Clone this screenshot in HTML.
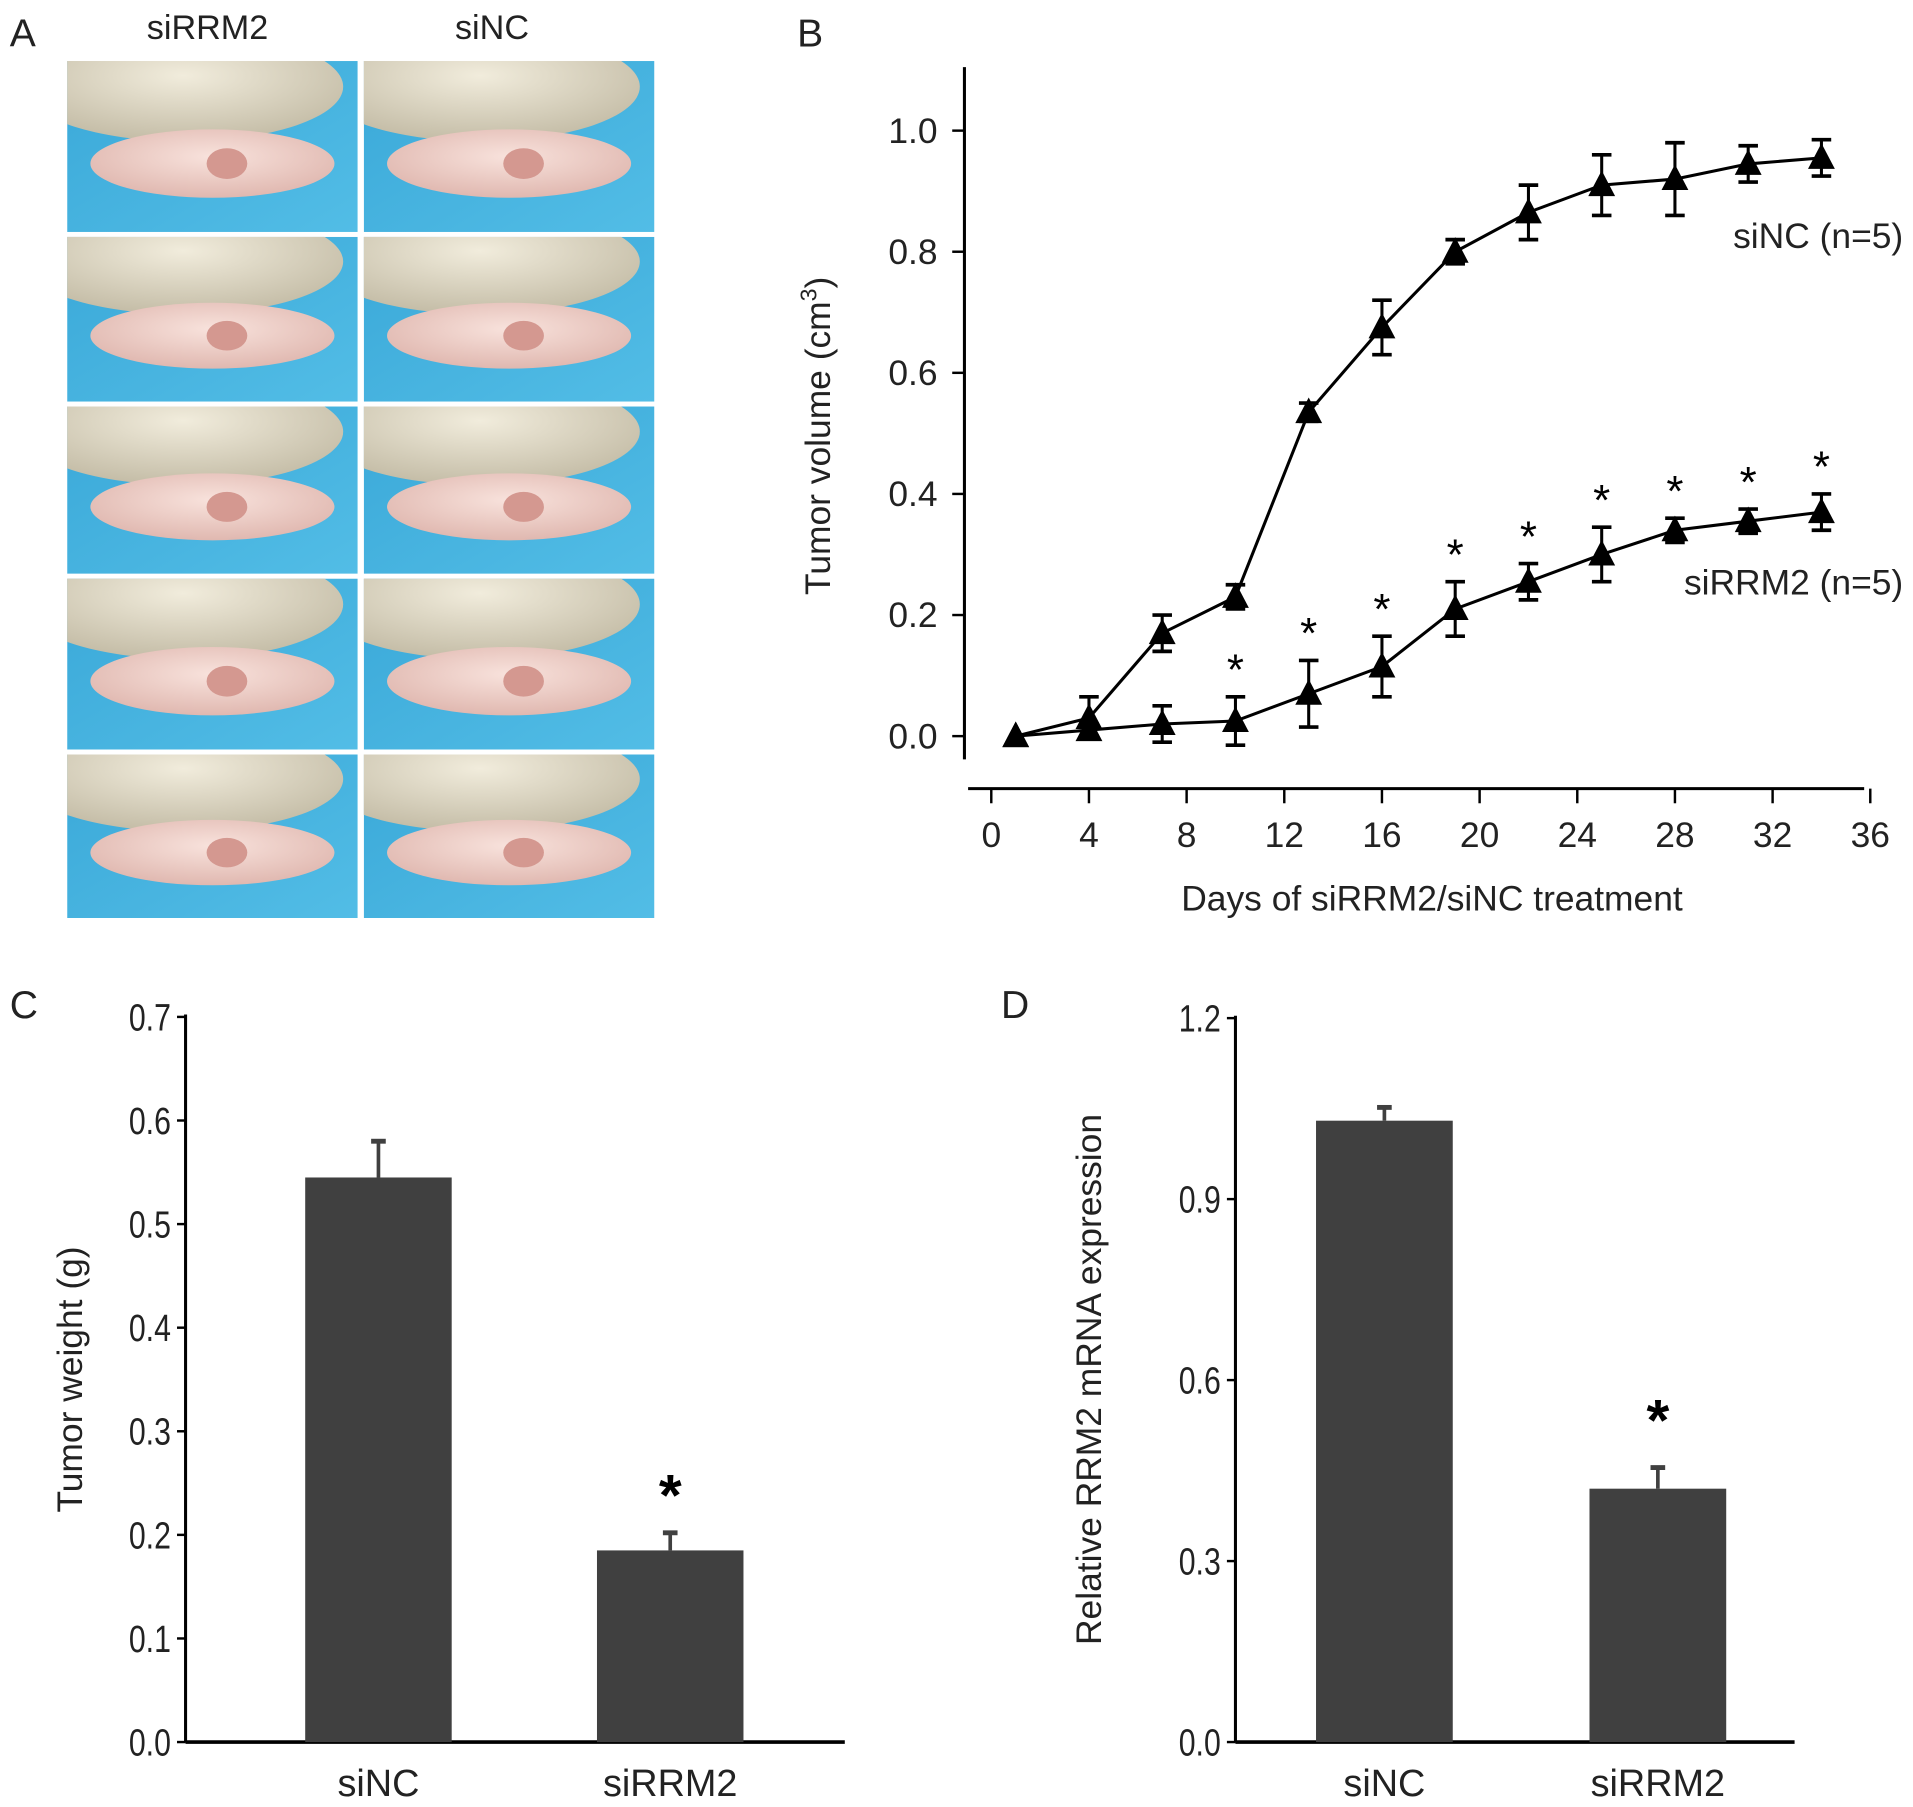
<!DOCTYPE html>
<html><head><meta charset="utf-8"><style>
html,body{margin:0;padding:0;background:#fff;}
svg{display:block;font-family:"Liberation Sans",Arial,sans-serif;}
</style></head><body>
<svg id="fig" width="1913" height="1807" viewBox="0 0 1567 1480.2" preserveAspectRatio="none" xmlns="http://www.w3.org/2000/svg">
<defs>
<linearGradient id="bg" x1="0" y1="0" x2="1" y2="1"><stop offset="0" stop-color="#3aa8d8"/><stop offset="1" stop-color="#52bde6"/></linearGradient>
<radialGradient id="hand" cx="0.5" cy="0.4" r="0.7"><stop offset="0" stop-color="#f1ecdc"/><stop offset="1" stop-color="#bdb59e"/></radialGradient>
<radialGradient id="body" cx="0.5" cy="0.4" r="0.6"><stop offset="0" stop-color="#f8e2dc"/><stop offset="1" stop-color="#e0b8b0"/></radialGradient>
</defs>
<g id="panelA"></g>
<g id="panelB"></g>
<g id="panelC"></g>
<g id="panelD"></g>
</svg>
<script>
// Panel B data
const days = [1,4,7,10,13,16,19,22,25,28,31,34];
const sincVals = [0,0.03,0.17,0.23,0.535,0.675,0.80,0.865,0.91,0.92,0.945,0.955];
const sincErr = [0,0.035,0.03,0.02,0.015,0.045,0.02,0.045,0.05,0.06,0.03,0.03];
const sirrmVals = [0,0.01,0.02,0.025,0.07,0.115,0.21,0.255,0.30,0.34,0.355,0.37];
const sirrmErr = [0,0.01,0.03,0.04,0.055,0.05,0.045,0.03,0.045,0.02,0.02,0.03];
const starFlags = [0,0,0,1,1,1,1,1,1,1,1,1];
const bYTicks = ["0.0","0.2","0.4","0.6","0.8","1.0"];
const bXTicks = [0,4,8,12,16,20,24,28,32,36];
// Panel C data
const cCats = ["siNC","siRRM2"];
const cVals = [0.545,0.185];
const cErr = [0.035,0.017];
const cYTicks = ["0.0","0.1","0.2","0.3","0.4","0.5","0.6","0.7"];
// Panel D data
const dCats = ["siNC","siRRM2"];
const dVals = [1.03,0.42];
const dErr = [0.022,0.035];
const dYTicks = ["0.0","0.3","0.6","0.9","1.2"];

const NS="http://www.w3.org/2000/svg";
function mk(parent,tag,attrs,name,text){
  const e=document.createElementNS(NS,tag);
  for(const k in attrs) e.setAttribute(k,attrs[k]);
  
  
  if(text!==undefined) e.textContent=text;
  parent.appendChild(e); return e;
}
const svg=document.getElementById('fig');
mk(svg,'text',{x:8,y:38,'font-size':32,fill:'#222'},'panel-label-a','A');
mk(svg,'text',{x:653,y:38,'font-size':32,fill:'#222'},'panel-label-b','B');
mk(svg,'text',{x:8,y:834,'font-size':32,fill:'#222'},'panel-label-c','C');
mk(svg,'text',{x:820,y:834,'font-size':32,fill:'#222'},'panel-label-d','D');

// Panel A photos
const A=document.getElementById('panelA');
const defs=svg.querySelector('defs');
mk(A,'text',{x:170,y:32,'font-size':28,'text-anchor':'middle',fill:'#222'},'column-title-sirrm2','siRRM2');
mk(A,'text',{x:403,y:32,'font-size':28,'text-anchor':'middle',fill:'#222'},'column-title-sinc','siNC');
const cols=[[55,293],[298,536]];
const rows=[[50,190],[194,329],[333,470],[474,614],[618,752]];
let cid=0;
rows.forEach((r,ri)=>cols.forEach((c,ci)=>{
  const w=c[1]-c[0],h=r[1]-r[0];
  const cp=mk(defs,'clipPath',{id:'cp'+cid},'photo-clip');
  mk(cp,'rect',{x:c[0],y:r[0],width:w,height:h},'clip-rect');
  const g=mk(A,'g',{'clip-path':'url(#cp'+cid+')'},'mouse-photo-'+(ci?'sinc':'sirrm2')+'-'+(ri+1));
  cid++;
  mk(g,'rect',{x:c[0],y:r[0],width:w,height:h,fill:'url(#bg)'},'photo-background');
  mk(g,'ellipse',{cx:c[0]+w*0.4,cy:r[0]+h*0.15,rx:w*0.55,ry:h*0.32,fill:'url(#hand)'},'glove-hand');
  mk(g,'ellipse',{cx:c[0]+w*0.5,cy:r[0]+h*0.6,rx:w*0.42,ry:h*0.2,fill:'url(#body)'},'mouse-body');
  mk(g,'ellipse',{cx:c[0]+w*0.55,cy:r[0]+h*0.6,rx:w*0.07,ry:h*0.09,fill:'#d49890'},'tumor');
}));

// Panel B
const B=document.getElementById('panelB');
const bx=d=>812+d*20, by=v=>603-v*496;
mk(B,'line',{x1:790,y1:55,x2:790,y2:622,stroke:'#000','stroke-width':2.5},'y-axis');
mk(B,'line',{x1:793,y1:646,x2:1527,y2:646,stroke:'#000','stroke-width':2.5},'x-axis');
bYTicks.forEach(t=>{const y=by(+t);
  mk(B,'line',{x1:790,y1:y,x2:780,y2:y,stroke:'#000','stroke-width':2},'y-tick');
  mk(B,'text',{x:768,y:y+10,'font-size':29,'text-anchor':'end',fill:'#222'},'y-tick-label',t);});
bXTicks.forEach(t=>{const x=bx(t);
  mk(B,'line',{x1:x,y1:646,x2:x,y2:658,stroke:'#000','stroke-width':2},'x-tick');
  mk(B,'text',{x:x,y:694,'font-size':29,'text-anchor':'middle',fill:'#222'},'x-tick-label',String(t));});
const yt=mk(B,'text',{transform:'translate(680,357) rotate(-90)','font-size':29,'text-anchor':'middle',fill:'#222'},'y-axis-title','Tumor volume (cm');
const sup=document.createElementNS(NS,'tspan');sup.setAttribute('dy','-11');sup.setAttribute('font-size','19');sup.textContent='3';


yt.appendChild(sup);
const cl=document.createElementNS(NS,'tspan');cl.setAttribute('dy','11');cl.textContent=')';


yt.appendChild(cl);
mk(B,'text',{x:1173,y:746,'font-size':29,'text-anchor':'middle',fill:'#222'},'x-axis-title','Days of siRRM2/siNC treatment');
function series(vals,errs,name){
  const pts=days.map((d,i)=>bx(d)+','+by(vals[i])).join(' ');
  mk(B,'polyline',{points:pts,fill:'none',stroke:'#000','stroke-width':2.5},name+'-line');
  days.forEach((d,i)=>{const x=bx(d),y=by(vals[i]),e=errs[i]*496;
    if(e>0){
      mk(B,'line',{x1:x,y1:y-e,x2:x,y2:y+e,stroke:'#000','stroke-width':2.5},name+'-error-bar');
      mk(B,'line',{x1:x-8,y1:y-e,x2:x+8,y2:y-e,stroke:'#000','stroke-width':3},name+'-error-cap');
      mk(B,'line',{x1:x-8,y1:y+e,x2:x+8,y2:y+e,stroke:'#000','stroke-width':3},name+'-error-cap');
    }
    mk(B,'polygon',{points:`${x},${y-12} ${x-11},${y+9} ${x+11},${y+9}`,fill:'#000'},name+'-marker');
  });
}
series(sincVals,sincErr,'sinc');
series(sirrmVals,sirrmErr,'sirrm2');
days.forEach((d,i)=>{ if(starFlags[i]){
  const y=by(sirrmVals[i]+sirrmErr[i])-26;
  mk(B,'text',{x:bx(d),y:y+16,'font-size':36,'text-anchor':'middle'},'significance-star','*');}});
mk(B,'text',{x:1559,y:203,'font-size':29,'text-anchor':'end',fill:'#222'},'series-label-sinc','siNC (n=5)');
mk(B,'text',{x:1559,y:487,'font-size':29,'text-anchor':'end',fill:'#222'},'series-label-sirrm2','siRRM2 (n=5)');

// Bar chart helper
function bars(G,axX,y0,yTop,max,ticks,cats,vals,errs,barX,bw,axEnd,title,titleX,star){
  const sy=v=>y0-(v/max)*(y0-yTop);
  mk(G,'line',{x1:axX,y1:yTop-2,x2:axX,y2:y0,stroke:'#000','stroke-width':2.5},'y-axis');
  mk(G,'line',{x1:axX,y1:y0,x2:axEnd,y2:y0,stroke:'#000','stroke-width':3},'x-axis');
  ticks.forEach(t=>{const y=sy(+t);
    mk(G,'line',{x1:axX,y1:y,x2:axX-7,y2:y,stroke:'#000','stroke-width':2},'y-tick');
    mk(G,'text',{x:axX-12,y:y+11,'font-size':31,'text-anchor':'end',fill:'#222',transform:`translate(${(axX-12)*0.2},0) scale(0.8,1)`},'y-tick-label',t);});
  cats.forEach((c,i)=>{const x=barX[i],top=sy(vals[i]),et=sy(vals[i]+errs[i]);
    mk(G,'line',{x1:x+bw/2,y1:top,x2:x+bw/2,y2:et,stroke:'#404040','stroke-width':3},'error-bar-'+c);
    mk(G,'line',{x1:x+bw/2-6,y1:et,x2:x+bw/2+6,y2:et,stroke:'#404040','stroke-width':4},'error-cap-'+c);
    mk(G,'rect',{x:x,y:top,width:bw,height:y0-top,fill:'#404040'},'bar-'+c);
    mk(G,'text',{x:x+bw/2,y:y0+44,'font-size':31,'text-anchor':'middle',fill:'#222'},'x-tick-label',c);
    if(i===1) mk(G,'text',{x:x+bw/2,y:et-14+star,'font-size':48,'text-anchor':'middle','font-weight':'bold'},'significance-star','*');
  });
  mk(G,'text',{transform:`translate(${titleX},1130) rotate(-90)`,'font-size':29,'text-anchor':'middle',fill:'#222'},'y-axis-title',title);
}
bars(document.getElementById('panelC'),152,1427,833,0.7,cYTicks,cCats,cVals,cErr,[250,489],120,692,'Tumor weight (g)',67,0);
bars(document.getElementById('panelD'),1012,1427,834,1.2,dYTicks,dCats,dVals,dErr,[1078,1302],112,1470,'Relative RRM2 mRNA expression',902,-8);
</script>
</body></html>
